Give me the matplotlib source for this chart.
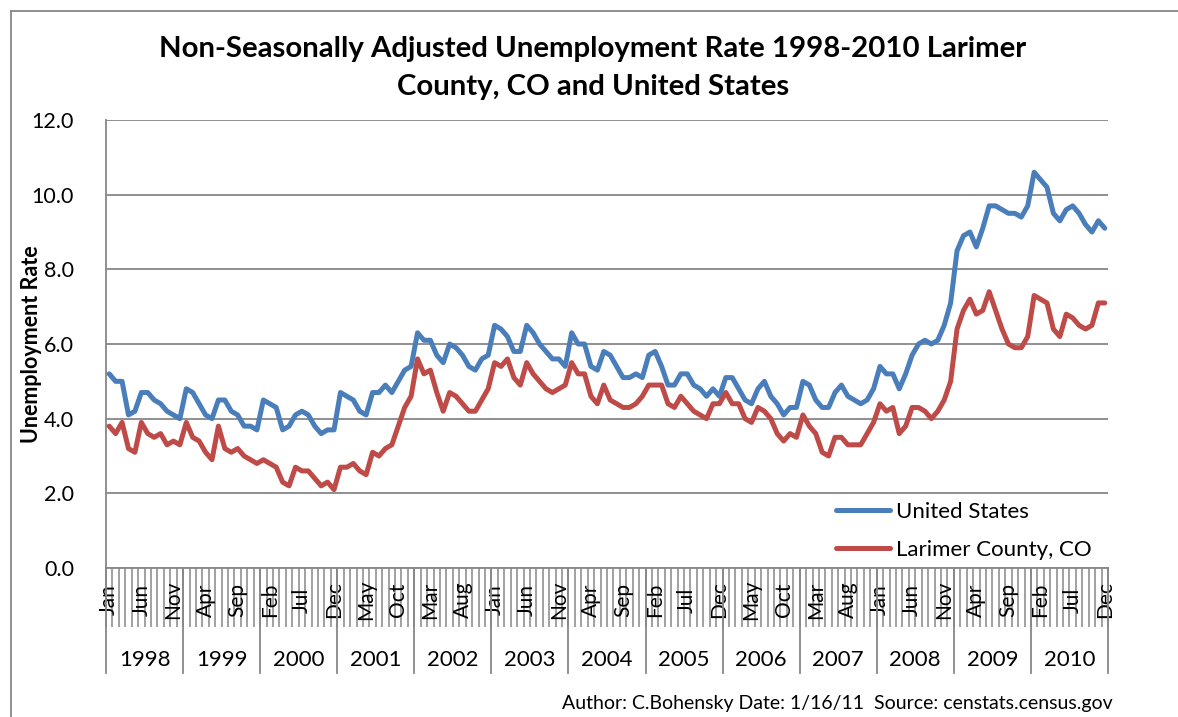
import matplotlib
matplotlib.use("Agg")
import matplotlib.pyplot as plt
import matplotlib.transforms as mtransforms
from matplotlib.lines import Line2D

# ---------------- data ----------------
years = [1998, 1999, 2000, 2001, 2002, 2003, 2004, 2005, 2006, 2007, 2008, 2009, 2010]
month_names = ['Jan', 'Feb', 'Mar', 'Apr', 'May', 'Jun',
               'Jul', 'Aug', 'Sep', 'Oct', 'Nov', 'Dec']

us_rate = [
    5.2, 5.0, 5.0, 4.1, 4.2, 4.7, 4.7, 4.5, 4.4, 4.2, 4.1, 4.0,   # 1998
    4.8, 4.7, 4.4, 4.1, 4.0, 4.5, 4.5, 4.2, 4.1, 3.8, 3.8, 3.7,   # 1999
    4.5, 4.4, 4.3, 3.7, 3.8, 4.1, 4.2, 4.1, 3.8, 3.6, 3.7, 3.7,   # 2000
    4.7, 4.6, 4.5, 4.2, 4.1, 4.7, 4.7, 4.9, 4.7, 5.0, 5.3, 5.4,   # 2001
    6.3, 6.1, 6.1, 5.7, 5.5, 6.0, 5.9, 5.7, 5.4, 5.3, 5.6, 5.7,   # 2002
    6.5, 6.4, 6.2, 5.8, 5.8, 6.5, 6.3, 6.0, 5.8, 5.6, 5.6, 5.4,   # 2003
    6.3, 6.0, 6.0, 5.4, 5.3, 5.8, 5.7, 5.4, 5.1, 5.1, 5.2, 5.1,   # 2004
    5.7, 5.8, 5.4, 4.9, 4.9, 5.2, 5.2, 4.9, 4.8, 4.6, 4.8, 4.6,   # 2005
    5.1, 5.1, 4.8, 4.5, 4.4, 4.8, 5.0, 4.6, 4.4, 4.1, 4.3, 4.3,   # 2006
    5.0, 4.9, 4.5, 4.3, 4.3, 4.7, 4.9, 4.6, 4.5, 4.4, 4.5, 4.8,   # 2007
    5.4, 5.2, 5.2, 4.8, 5.2, 5.7, 6.0, 6.1, 6.0, 6.1, 6.5, 7.1,   # 2008
    8.5, 8.9, 9.0, 8.6, 9.1, 9.7, 9.7, 9.6, 9.5, 9.5, 9.4, 9.7,   # 2009
    10.6, 10.4, 10.2, 9.5, 9.3, 9.6, 9.7, 9.5, 9.2, 9.0, 9.3, 9.1,  # 2010
]

larimer_rate = [
    3.8, 3.6, 3.9, 3.2, 3.1, 3.9, 3.6, 3.5, 3.6, 3.3, 3.4, 3.3,   # 1998
    3.9, 3.5, 3.4, 3.1, 2.9, 3.8, 3.2, 3.1, 3.2, 3.0, 2.9, 2.8,   # 1999
    2.9, 2.8, 2.7, 2.3, 2.2, 2.7, 2.6, 2.6, 2.4, 2.2, 2.3, 2.1,   # 2000
    2.7, 2.7, 2.8, 2.6, 2.5, 3.1, 3.0, 3.2, 3.3, 3.8, 4.3, 4.6,   # 2001
    5.6, 5.2, 5.3, 4.7, 4.2, 4.7, 4.6, 4.4, 4.2, 4.2, 4.5, 4.8,   # 2002
    5.5, 5.4, 5.6, 5.1, 4.9, 5.5, 5.2, 5.0, 4.8, 4.7, 4.8, 4.9,   # 2003
    5.5, 5.2, 5.2, 4.6, 4.4, 4.9, 4.5, 4.4, 4.3, 4.3, 4.4, 4.6,   # 2004
    4.9, 4.9, 4.9, 4.4, 4.3, 4.6, 4.4, 4.2, 4.1, 4.0, 4.4, 4.4,   # 2005
    4.7, 4.4, 4.4, 4.0, 3.9, 4.3, 4.2, 4.0, 3.6, 3.4, 3.6, 3.5,   # 2006
    4.1, 3.8, 3.6, 3.1, 3.0, 3.5, 3.5, 3.3, 3.3, 3.3, 3.6, 3.9,   # 2007
    4.4, 4.2, 4.3, 3.6, 3.8, 4.3, 4.3, 4.2, 4.0, 4.2, 4.5, 5.0,   # 2008
    6.4, 6.9, 7.2, 6.8, 6.9, 7.4, 6.9, 6.4, 6.0, 5.9, 5.9, 6.2,   # 2009
    7.3, 7.2, 7.1, 6.4, 6.2, 6.8, 6.7, 6.5, 6.4, 6.5, 7.1, 7.1,   # 2010
]

series_names = ['United States', 'Larimer County, CO']
y_ticks = [0, 2, 4, 6, 8, 10, 12]
title = 'Non-Seasonally Adjusted Unemployment Rate 1998-2010 Larimer\nCounty, CO and United States'
y_label = 'Unemployment Rate'
footer = 'Author: C.Bohensky Date: 1/16/11  Source: censtats.census.gov'

# ---------------- style ----------------
FONT = ['Lato', 'DejaVu Sans']
plt.rcParams['font.family'] = FONT
BLUE = '#4A7EBB'
RED = '#BE4B48'
GRID = '#878787'

W, H = 1178, 717
fig = plt.figure(figsize=(W / 100, H / 100), dpi=100)

# plot area in pixels
L, R, T, B = 106, 1108, 120, 568
ax = fig.add_axes([L / W, 1 - B / H, (R - L) / W, (B - T) / H])

n = len(us_rate)
x = list(range(n))
ax.plot(x, us_rate, color=BLUE, lw=3.6, solid_joinstyle='round',
        solid_capstyle='round', label=series_names[0], zorder=3)
ax.plot(x, larimer_rate, color=RED, lw=3.6, solid_joinstyle='round',
        solid_capstyle='round', label=series_names[1], zorder=3)

ax.set_xlim(-0.5, n - 0.5)
ax.set_ylim(0, 12)
ax.set_yticks(y_ticks)
ax.set_yticklabels([f'{v:.1f}' for v in y_ticks], fontsize=15.5)
ax.yaxis.grid(True, color=GRID, lw=1.3)
ax.set_axisbelow(True)
ax.tick_params(axis='y', length=0, pad=23)

for s in ['top', 'right']:
    ax.spines[s].set_visible(False)
for s in ['left', 'bottom']:
    ax.spines[s].set_color(GRID)
    ax.spines[s].set_linewidth(1.3)

# month boundary ticks (major) and month labels every 5 months (minor)
boundaries = [i - 0.5 for i in range(n + 1)]
ax.set_xticks(boundaries)
ax.set_xticklabels([])
ax.tick_params(axis='x', which='major', length=42.5, width=1.1, color=GRID, direction='out')
lab_pos = list(range(0, n, 5))
labels = [month_names[i % 12] for i in lab_pos]
ax.set_xticks(lab_pos, minor=True)
ax.set_xticklabels(labels, minor=True, rotation=90, fontsize=15)
ax.tick_params(axis='x', which='minor', length=0, pad=23)
for t in ax.get_xticklabels(minor=True):
    t.set_va('center')

# year separators and year labels
trans = mtransforms.blended_transform_factory(ax.transData, ax.transAxes)
ph = B - T
for k in range(len(years) + 1):
    xb = -0.5 + 12 * k
    ax.plot([xb, xb], [0, -105 / ph], transform=trans, color=GRID, lw=1.3,
            clip_on=False, zorder=1)
for k, yr in enumerate(years):
    ax.text(12 * k + 5.5, -92 / ph, str(yr), transform=trans, ha='center',
            va='center', fontsize=16)

# legend
leg = ax.legend(loc='upper left', bbox_to_anchor=((836 - L) / (R - L), (B - 502) / ph),
                frameon=False, fontsize=16, handlelength=2.45, handletextpad=0.25,
                labelspacing=0.82, borderpad=0, borderaxespad=0)

# title, y label, footer
fig.text(593 / W, 1 - 68 / H, title, ha='center', va='center', fontsize=21.2,
         fontweight='bold', linespacing=1.6)
fig.text(32 / W, 1 - 344 / H, y_label, ha='center', va='center', rotation=90,
         fontsize=15.5, fontweight='bold')
fig.text(1113 / W, 1 - 703 / H, footer, ha='right', va='center', fontsize=14)

# chart border (clipped on right and bottom)
fig.add_artist(Line2D([11 / W, 11 / W], [0, 1 - 11 / H], transform=fig.transFigure,
                      color=GRID, lw=1.3))
fig.add_artist(Line2D([11 / W, 1], [1 - 11 / H, 1 - 11 / H], transform=fig.transFigure,
                      color=GRID, lw=1.3))

fig.savefig('out.png', dpi=100)
